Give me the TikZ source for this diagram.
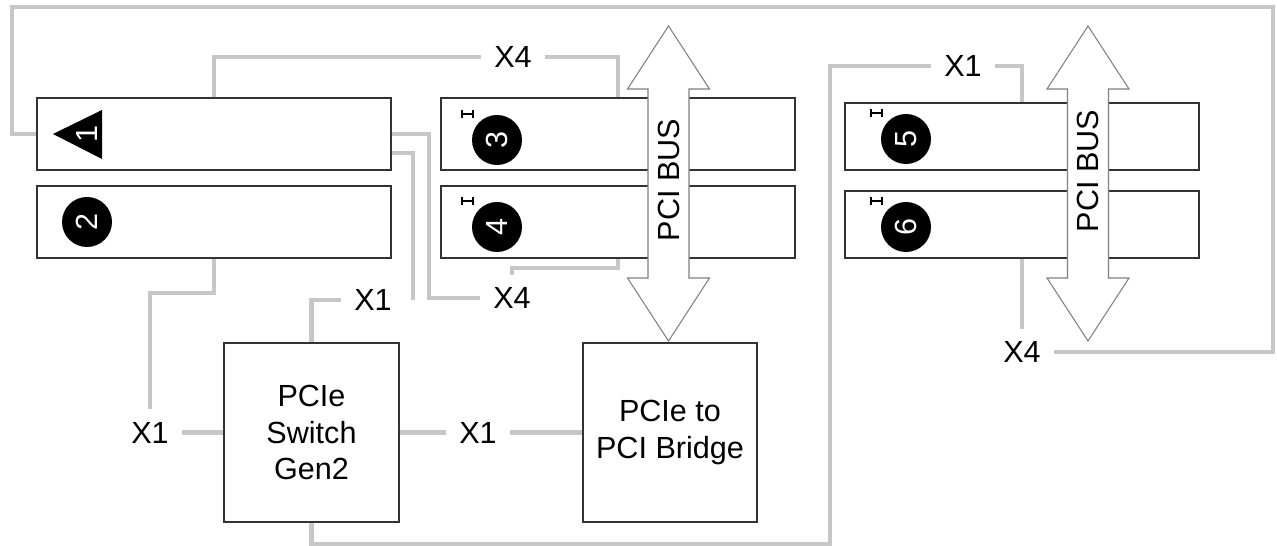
\documentclass[tikz,border=0pt]{standalone}
\usepackage{fontspec}
\setmainfont{Liberation Sans}
\begin{document}
\begin{tikzpicture}[x=0.02cm,y=-0.02cm,
    font=\fontsize{17.4}{21}\selectfont,
    link/.style={draw=black!22,line width=2.3pt},
    slot/.style={draw=black!80,line width=0.8pt,minimum width=7.08cm,minimum height=1.44cm,inner sep=0pt},
    chip/.style={draw=black!80,line width=0.8pt,align=center,inner sep=0pt},
    lbl/.style={inner sep=0.25cm},
    bus/.style={draw=black!50,fill=white,line width=0.6pt},
    num/.style={text=white,rotate=90,inner sep=0pt}]
    \useasboundingbox (0,0) rectangle (1277,546);
    % slots
    \node[slot] (s1) at (214,134) {};
    \node[slot] (s2) at (214,222) {};
    \node[slot] (s3) at (618,134) {};
    \node[slot] (s4) at (618,222) {};
    \node[slot,minimum height=1.34cm] (s5) at (1022,136.5) {};
    \node[slot,minimum height=1.34cm] (s6) at (1022,224.5) {};
    % chips
    \node[chip,minimum width=3.5cm,minimum height=3.58cm] (sw) at (311.5,432.5) {PCIe\\Switch\\Gen2};
    \node[chip,minimum width=3.48cm,minimum height=3.58cm] (br) at (670,432.5) {PCIe to\\PCI Bridge};
    % labels
    \node[lbl] (x4a) at (513,57) {X4};
    \node[lbl] (x4b) at (512,298) {X4};
    \node[lbl] (x4c) at (1022,352) {X4};
    \node[lbl] (x1a) at (150,432.5) {X1};
    \node[lbl] (x1b) at (373,300) {X1};
    \node[lbl] (x1c) at (478,432.5) {X1};
    \node[lbl] (x1d) at (963,66) {X1};
    \coordinate (tr) at (1273,7);
    \coordinate (lb) at (830,544);
    % links
    \draw[link] (s1.west) -- ++(-24,0) |- (tr) |- (x4c.east);
    \draw[link] (s6.south) -- (x4c.north);
    \draw[link] (s1.north) |- (x4a.west);
    \draw[link] (x4a.east) -| (s3.north);
    \draw[link] (s1.east) -- ++(37,0) |- (x4b.west);
    \draw[link] (s4.south) -- ++(0,9) -| (x4b.north);
    \draw[link] ([yshift=-0.38cm]s1.east) -| ([xshift=0.16cm]x1b.east);
    \draw[link] (x1b.west) -| (sw.north);
    \draw[link] (s2.south) -- ++(0,34) -| (x1a.north);
    \draw[link] (x1a.east) -- (sw.west);
    \draw[link] (sw.east) -- (x1c.west);
    \draw[link] (x1c.east) -- (br.west);
    \draw[link] (sw.south) |- (lb) |- (x1d.west);
    \draw[link] (x1d.east) -| (s5.north);
    % PCI buses
    \foreach \cx/\ty [count=\i] in {668.5/180,1088/171} {
        \draw[bus] (\cx,26) -- (\cx+41,89) -- (\cx+20.5,89) -- (\cx+20.5,278) -- (\cx+41,278)
            -- (\cx,341) -- (\cx-41,278) -- (\cx-20.5,278) -- (\cx-20.5,89) -- (\cx-41,89) -- cycle;
        \node[rotate=90,inner sep=0pt] (bus\i) at (\cx,\ty) {PCI BUS};
    }
    % slot numbers
    \fill (53,134) -- (102,110) -- (102,159) -- cycle;
    \node[num] (n1) at (87,134) {1};
    \foreach \n/\cx/\cy in {2/87/222,3/497/140,4/497/227,5/906/139,6/906/227} {
        \fill (\cx,\cy) circle (25);
        \node[num] (n\n) at (\cx,\cy) {\n};
    }
    \foreach \cx/\cy in {497/140,497/227,906/139,906/227} {
        \draw[line width=0.7pt] (\cx-35,\cy-30) -- (\cx-35,\cy-22)
            (\cx-35,\cy-26) -- (\cx-24,\cy-26)
            (\cx-24,\cy-30) -- (\cx-24,\cy-22);
    }
\end{tikzpicture}
\end{document}
